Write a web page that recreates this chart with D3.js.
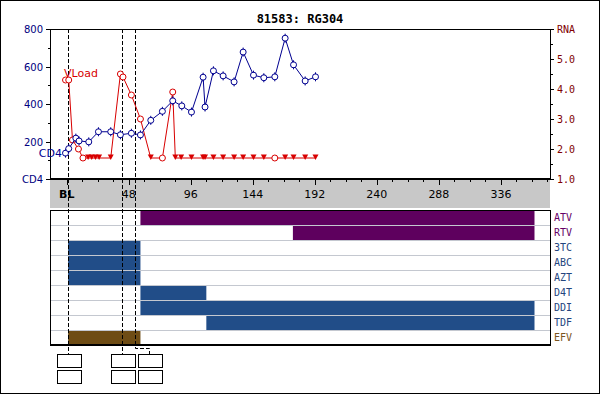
<!DOCTYPE html>
<html>
<head>
<meta charset="utf-8">
<script src="https://cdn.jsdelivr.net/npm/d3@7"></script>
<style>
  body { margin: 0; background: #fff; }
  svg { display: block; }
</style>
</head>
<body>
<div id="chart"></div>
<script>
// data
var title = "81583: RG304";

var cd4Weeks  = [-1, 1.5, 7, 9.5, 17, 24.5, 34, 41.5, 50, 57, 65, 74, 82, 89, 96.5, 105.5, 107, 113.5, 121, 129.5, 136.5, 144.5, 152.5, 161, 169, 175.5, 184.5, 192.5];
var cd4Values = [138, 162, 218, 203, 198, 252, 252, 236, 244, 235, 313, 361, 417, 390, 357, 543, 384, 577, 550, 518, 677, 554, 540, 545, 751, 609, 523, 545];

var vlWeeks    = [-1, 1.5, 4.4, 9, 12.5, 16.5, 19.3, 22.2, 25, 34, 41.5, 43.5, 50, 57, 65, 74, 82, 84, 88.5, 96.5, 105.5, 107, 113.5, 121, 129.5, 136.5, 144.5, 152.5, 161, 169, 175.5, 184.5, 192.5];
var vlLog      = [4.3, 4.3, 2.3, 2.0, 1.7, 1.7, 1.7, 1.7, 1.7, 1.7, 4.5, 4.4, 3.8, 3.0, 1.7, 1.7, 3.9, 1.7, 1.7, 1.7, 1.7, 1.7, 1.7, 1.7, 1.7, 1.7, 1.7, 1.7, 1.7, 1.7, 1.7, 1.7, 1.7];
var vlCensored = [0, 0, 0, 0, 0, 1, 1, 1, 1, 1, 0, 0, 0, 0, 1, 0, 0, 1, 1, 1, 1, 1, 1, 1, 1, 1, 1, 1, 0, 1, 1, 1, 1];

var drugs      = ["ATV", "RTV", "3TC", "ABC", "AZT", "D4T", "DDI", "TDF", "EFV"];
var drugStart  = [57, 175, 1, 1, 1, 57, 57, 108, 1];
var drugEnd    = [362, 362, 57, 57, 57, 108, 362, 362, 57];
var drugClass  = ["pi", "pi", "nrti", "nrti", "nrti", "nrti", "nrti", "nrti", "nnrti"];

var markerWeeks = [1, 43, 53];

var xTicks   = [0, 48, 96, 144, 192, 240, 288, 336];
var cd4Ticks = [0, 200, 400, 600, 800];
var rnaTicks = [1, 2, 3, 4, 5, 6];

// layout
var W = 600, H = 394;
var pLeft = 50, pRight = 550, pTop = 29, pBottom = 179;
var bandBottom = 208, drugTop = 210, rowH = 15;

var classFill  = {pi: "#5e005e", nrti: "#214d88", nnrti: "#6e4c14"};
var classLabel = {pi: "#660066", nrti: "#23457e", nnrti: "#7a5420"};

var svg = d3.select("#chart").append("svg")
  .attr("width", W).attr("height", H);

svg.append("rect")
  .attr("x", 0.5).attr("y", 0.5).attr("width", W - 1).attr("height", H - 1)
  .attr("fill", "#fff").attr("stroke", "#000");

var x = d3.scaleLinear().domain([-13, 374]).range([pLeft, pRight]);
var yL = d3.scaleLinear().domain([0, 800]).range([pBottom, pTop]);
var yR = d3.scaleLinear().domain([1, 6]).range([pBottom, pTop]);

// title
svg.append("text")
  .attr("x", 300).attr("y", 23)
  .attr("text-anchor", "middle")
  .style("font", "bold 12px 'DejaVu Sans Mono'")
  .text(title);

// gray time band
svg.append("rect")
  .attr("x", pLeft).attr("y", pBottom).attr("width", pRight - pLeft).attr("height", bandBottom - pBottom)
  .attr("fill", "#c8c8c8");

// x ticks (minor every 12)
var minor = d3.range(0, 373, 12);
svg.selectAll(".xt").data(minor).enter().append("line")
  .attr("x1", function(d) { return Math.round(x(d)) + 0.5 })
  .attr("x2", function(d) { return Math.round(x(d)) + 0.5 })
  .attr("y1", pBottom)
  .attr("y2", function(d) { return d % 48 == 0 ? pBottom + 6 : pBottom + 3 })
  .attr("stroke", "#000");

svg.selectAll(".xl").data(xTicks).enter().append("text")
  .attr("x", function(d) { return x(d) })
  .attr("y", 198)
  .attr("text-anchor", "middle")
  .style("font", function(d) { return (d == 0 ? "bold " : "") + "11px 'DejaVu Sans'" })
  .text(function(d) { return d == 0 ? "BL" : d });

// plot frame
svg.append("path")
  .attr("d", "M" + pLeft + "," + (pTop + 0.5) + "H" + (pRight + 0.5) + "V" + pBottom)
  .attr("fill", "none").attr("stroke", "#000");
svg.append("line")
  .attr("x1", pLeft + 0.5).attr("x2", pLeft + 0.5).attr("y1", pTop).attr("y2", pBottom)
  .attr("stroke", "#000");
svg.append("line")
  .attr("x1", pLeft).attr("x2", pRight + 1).attr("y1", pBottom).attr("y2", pBottom)
  .attr("stroke", "#000").attr("stroke-width", 2);

// left axis
svg.selectAll(".lt").data(d3.range(0, 801, 100)).enter().append("line")
  .attr("x1", function(d) { return d % 200 == 0 ? pLeft - 4 : pLeft - 2 })
  .attr("x2", pLeft)
  .attr("y1", function(d) { return Math.round(yL(d)) + 0.5 })
  .attr("y2", function(d) { return Math.round(yL(d)) + 0.5 })
  .attr("stroke", "#000");
svg.selectAll(".ll").data(cd4Ticks).enter().append("text")
  .attr("x", 43).attr("y", function(d) { return yL(d) + 4 })
  .attr("text-anchor", "end")
  .attr("fill", "#000080")
  .style("font", "10px 'DejaVu Sans'")
  .text(function(d) { return d == 0 ? "CD4" : d });

// right axis
svg.selectAll(".rt").data(d3.range(1, 6.01, 0.5)).enter().append("line")
  .attr("x1", pRight)
  .attr("x2", function(d) { return d % 1 == 0 ? pRight + 4 : pRight + 3 })
  .attr("y1", function(d) { return Math.round(yR(d)) + 0.5 })
  .attr("y2", function(d) { return Math.round(yR(d)) + 0.5 })
  .attr("stroke", "#000");
svg.selectAll(".rl").data(rnaTicks).enter().append("text")
  .attr("x", 557).attr("y", function(d) { return yR(d) + 4 })
  .attr("fill", "#800000")
  .style("font", "10px 'DejaVu Sans Mono'")
  .text(function(d) { return d == 6 ? "RNA" : d.toFixed(1) });

// drug panel
var drugG = svg.append("g");
drugG.append("rect")
  .attr("x", pLeft + 0.5).attr("y", drugTop + 0.5)
  .attr("width", pRight - pLeft).attr("height", drugs.length * rowH)
  .attr("fill", "#fff").attr("stroke", "#000");

drugG.selectAll(".bar").data(drugs).enter().append("rect")
  .attr("x", function(d, i) { return x(drugStart[i]) })
  .attr("y", function(d, i) { return drugTop + i * rowH + 1 })
  .attr("width", function(d, i) { return x(drugEnd[i]) - x(drugStart[i]) })
  .attr("height", rowH - 1)
  .attr("fill", function(d, i) { return classFill[drugClass[i]] });

drugG.selectAll(".sep").data(d3.range(1, drugs.length)).enter().append("line")
  .attr("x1", pLeft + 1).attr("x2", pRight)
  .attr("y1", function(d) { return drugTop + d * rowH + 0.5 })
  .attr("y2", function(d) { return drugTop + d * rowH + 0.5 })
  .attr("stroke", "#c4c8d0");

drugG.append("line")
  .attr("x1", pLeft).attr("x2", pRight + 1)
  .attr("y1", drugTop + drugs.length * rowH).attr("y2", drugTop + drugs.length * rowH)
  .attr("stroke", "#000").attr("stroke-width", 2);

drugG.selectAll(".dl").data(drugs).enter().append("text")
  .attr("x", 554)
  .attr("y", function(d, i) { return drugTop + i * rowH + 11 })
  .attr("fill", function(d, i) { return classLabel[drugClass[i]] })
  .style("font", "10px 'DejaVu Sans Mono'")
  .text(function(d) { return d });

// marker dashed lines and boxes
var boxTop = 354, boxW = 24, boxH = 13;
markerWeeks.forEach(function(w, i) {
  var lx = Math.round(x(w)) + 0.5;
  var bx = lx;
  var d;
  if (i == markerWeeks.length - 1) {
    bx = lx + 14;
    d = "M" + lx + "," + pTop + "V348.5H" + bx + "V" + boxTop;
  } else {
    d = "M" + lx + "," + pTop + "V" + boxTop;
  }
  svg.append("path").attr("d", d)
    .attr("fill", "none").attr("stroke", "#000").attr("stroke-dasharray", "4,2");
  [0, 16].forEach(function(off) {
    svg.append("rect")
      .attr("x", Math.round(bx - boxW / 2) + 0.5).attr("y", boxTop + off + 0.5)
      .attr("width", boxW).attr("height", boxH)
      .attr("fill", "#fff").attr("stroke", "#000");
  });
});

// viral load series
var vl = vlWeeks.map(function(w, i) { return {w: w, v: vlLog[i], c: vlCensored[i]} });
var red = "#d80000";
svg.append("path")
  .attr("d", d3.line().x(function(d) { return x(d.w) }).y(function(d) { return yR(d.v) })(vl))
  .attr("fill", "none").attr("stroke", red).attr("stroke-width", 1);

svg.selectAll(".vc").data(vl.filter(function(d) { return !d.c })).enter().append("circle")
  .attr("cx", function(d) { return x(d.w) }).attr("cy", function(d) { return yR(d.v) })
  .attr("r", 3).attr("fill", "#fff").attr("stroke", red);
svg.selectAll(".vt").data(vl.filter(function(d) { return d.c })).enter().append("path")
  .attr("d", function(d) {
    var cx = x(d.w), cy = yR(d.v);
    return "M" + (cx - 3) + "," + (cy - 3.5) + "L" + (cx + 3) + "," + (cy - 3.5) + "L" + cx + "," + (cy + 2) + "Z";
  })
  .attr("fill", red);

svg.append("text")
  .attr("x", 64).attr("y", 77)
  .attr("fill", red)
  .style("font", "11px 'DejaVu Sans'")
  .text("VLoad");

// CD4 series
var cd4 = cd4Weeks.map(function(w, i) { return {w: w, v: cd4Values[i]} });
var navy = "#000090";
svg.append("path")
  .attr("d", d3.line().x(function(d) { return x(d.w) }).y(function(d) { return yL(d.v) })(cd4))
  .attr("fill", "none").attr("stroke", navy);
var pts = svg.selectAll(".cp").data(cd4).enter().append("g")
  .attr("transform", function(d) { return "translate(" + x(d.w) + "," + yL(d.v) + ")" });
pts.append("circle").attr("r", 3).attr("fill", "#fff").attr("stroke", navy);
pts.append("line").attr("y1", -4.5).attr("y2", -2.5).attr("stroke", navy);
pts.append("line").attr("y1", 2.5).attr("y2", 4.5).attr("stroke", navy);

svg.append("text")
  .attr("x", 62).attr("y", 157)
  .attr("text-anchor", "end")
  .attr("fill", navy)
  .style("font", "11px 'DejaVu Sans'")
  .text("CD4");
</script>
</body>
</html>
